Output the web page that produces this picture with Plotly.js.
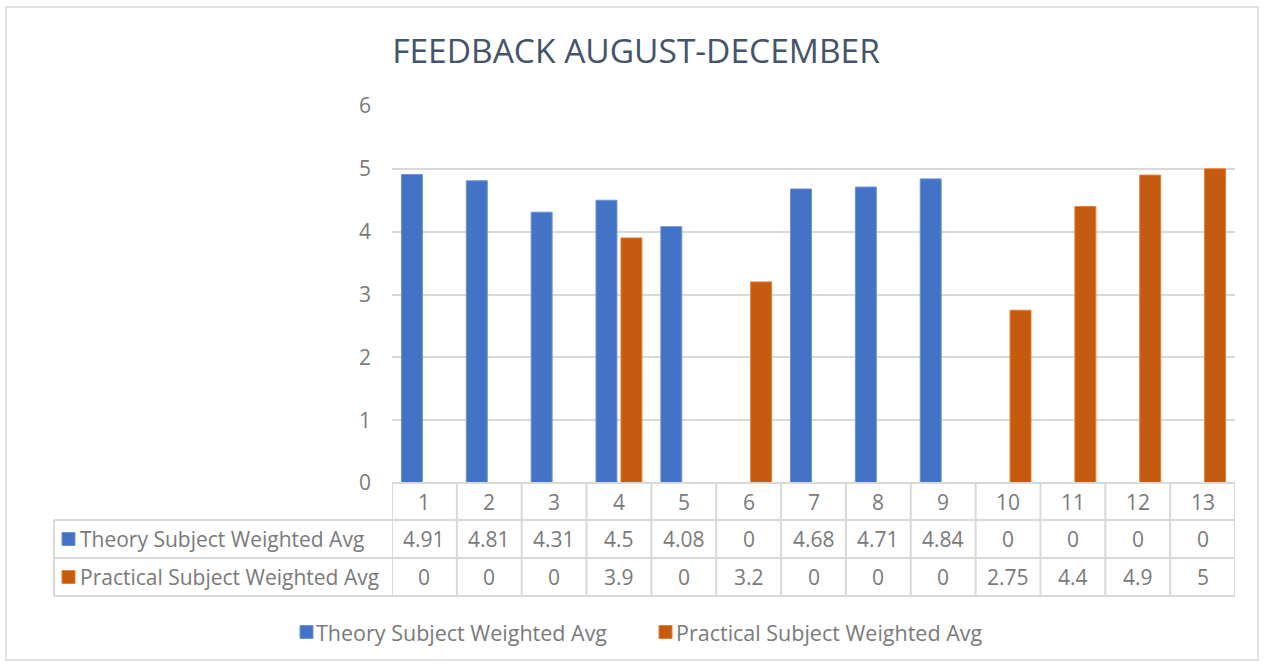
<!DOCTYPE html>
<html>
<head>
<meta charset="utf-8">
<script src="https://cdn.plot.ly/plotly-3.0.1.min.js"></script>
<style>html,body{margin:0;padding:0;background:#fff;}#chart{width:1264px;height:666px;}</style>
</head>
<body>
<div id="chart"></div>
<script>
const categories = ['1','2','3','4','5','6','7','8','9','10','11','12','13'];
const seriesNames = ['Theory Subject Weighted Avg', 'Practical Subject Weighted Avg'];
const theory = [4.91, 4.81, 4.31, 4.5, 4.08, 0, 4.68, 4.71, 4.84, 0, 0, 0, 0];
const practical = [0, 0, 0, 3.9, 0, 3.2, 0, 0, 0, 2.75, 4.4, 4.9, 5];
const colors = ['#4472c4', '#c55a11'];
const edgeColors = ['#6f93d6', '#ed7d31'];

const FONT = '"Open Sans", Calibri, Carlito, sans-serif';
const TXT = '#7a7a7a';
const GRID = '#d9d9d9';

// plot area geometry (pixels)
const L = 392, R = 29, T = 106, B = 183;
const W = 1264, Hh = 666;
const PW = W - L - R, PH = Hh - T - B;
const px = p => (p - L) / PW;       // pixel x -> paper
const py = p => (Hh - B - p) / PH;  // pixel y -> paper

const traces = [theory, practical].map((vals, i) => ({
  type: 'bar',
  x: categories,
  y: vals,
  name: seriesNames[i],
  marker: {color: colors[i], line: {color: edgeColors[i], width: 1}},
  hoverinfo: 'x+y+name',
  showlegend: false
}));

const shapes = [];
const annotations = [];
const rowTop = 483, r1 = 520, r2 = 558, r3 = 596, tableLeft = 54;
const lineStyle = {color: GRID, width: 2};

// outer chart border
shapes.push({type: 'rect', xref: 'paper', yref: 'paper', x0: px(6), x1: px(1258), y0: py(7), y1: py(660), line: {color: '#d9d9d9', width: 1.5}, fillcolor: 'rgba(0,0,0,0)'});

// horizontal table lines
shapes.push({type: 'line', xref: 'paper', yref: 'paper', x0: 0, x1: 1, y0: py(rowTop), y1: py(rowTop), line: lineStyle});
[r1, r2, r3].forEach(yy => shapes.push({type: 'line', xref: 'paper', yref: 'paper', x0: px(tableLeft), x1: 1, y0: py(yy), y1: py(yy), line: lineStyle}));
// vertical lines at category boundaries
for (let k = 0; k <= categories.length; k++) {
  shapes.push({type: 'line', xref: 'x', yref: 'paper', x0: k - 0.5, x1: k - 0.5, y0: py(rowTop), y1: py(r3), line: lineStyle});
}
shapes.push({type: 'line', xref: 'paper', yref: 'paper', x0: px(tableLeft), x1: px(tableLeft), y0: py(r1), y1: py(r3), line: lineStyle});

const cellFont = {family: FONT, size: 21, color: TXT};
const rowCenters = [(rowTop + r1) / 2, (r1 + r2) / 2, (r2 + r3) / 2];
categories.forEach((c, i) => {
  annotations.push({xref: 'x', yref: 'paper', x: i, y: py(rowCenters[0]), text: c, showarrow: false, font: cellFont, xanchor: 'center', yanchor: 'middle'});
  annotations.push({xref: 'x', yref: 'paper', x: i, y: py(rowCenters[1]), text: String(theory[i]), showarrow: false, font: cellFont, xanchor: 'center', yanchor: 'middle'});
  annotations.push({xref: 'x', yref: 'paper', x: i, y: py(rowCenters[2]), text: String(practical[i]), showarrow: false, font: cellFont, xanchor: 'center', yanchor: 'middle'});
});
// row labels with swatches
seriesNames.forEach((n, i) => {
  const cy = rowCenters[i + 1];
  shapes.push({type: 'rect', xref: 'paper', yref: 'paper', x0: px(62), x1: px(75), y0: py(cy - 6.5), y1: py(cy + 6.5), fillcolor: colors[i], line: {color: edgeColors[i], width: 1}});
  annotations.push({xref: 'paper', yref: 'paper', x: px(78), y: py(cy), text: n, showarrow: false, font: cellFont, xanchor: 'left', yanchor: 'middle'});
});
// bottom legend
const legendItems = [{sx: 300, tx: 314}, {sx: 659, tx: 674}];
seriesNames.forEach((n, i) => {
  const cy = 632;
  shapes.push({type: 'rect', xref: 'paper', yref: 'paper', x0: px(legendItems[i].sx), x1: px(legendItems[i].sx + 13), y0: py(cy - 6.5), y1: py(cy + 6.5), fillcolor: colors[i], line: {color: edgeColors[i], width: 1}});
  annotations.push({xref: 'paper', yref: 'paper', x: px(legendItems[i].tx), y: py(cy), text: n, showarrow: false, font: {family: FONT, size: 21.5, color: TXT}, xanchor: 'left', yanchor: 'middle'});
});

const layout = {
  width: W, height: Hh,
  margin: {l: L, r: R, t: T, b: B, pad: 0},
  paper_bgcolor: '#ffffff', plot_bgcolor: '#ffffff',
  title: {
    text: 'FEEDBACK AUGUST-DECEMBER',
    font: {family: FONT, size: 33.5, color: '#44546a'},
    xref: 'container', yref: 'container',
    x: 636 / W, xanchor: 'center', y: 1 - 51 / Hh, yanchor: 'middle'
  },
  barmode: 'group',
  bargap: 0.23,
  bargroupgap: 0.16,
  showlegend: false,
  xaxis: {type: 'category', showticklabels: false, showgrid: false, zeroline: false, showline: false, ticks: '', range: [-0.5, 12.5]},
  yaxis: {range: [0, 6], dtick: 1, showgrid: true, gridcolor: GRID, gridwidth: 1.5, zeroline: false, showline: false,
          ticks: '', tickfont: {family: FONT, size: 21, color: TXT}, ticklabelstandoff: 20},
  shapes: shapes,
  annotations: annotations
};

Plotly.newPlot('chart', traces, layout, {displayModeBar: false, staticPlot: false});
</script>
</body>
</html>
